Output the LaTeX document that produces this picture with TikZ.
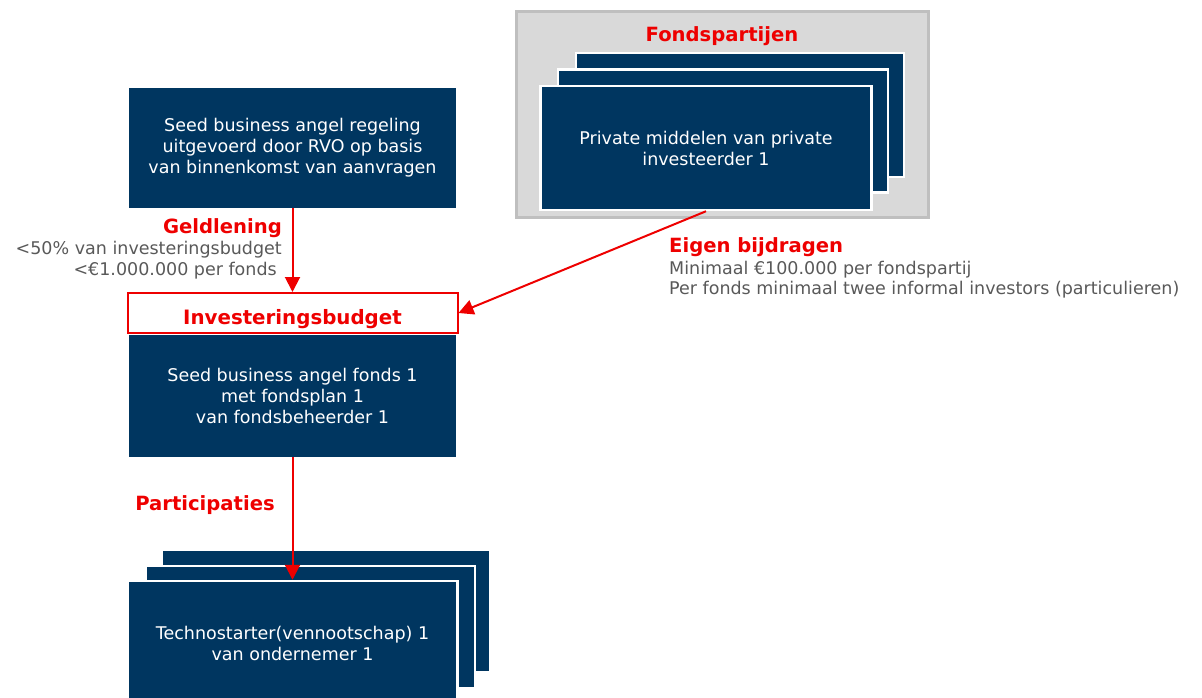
\documentclass[tikz,border=0pt]{standalone}
\usepackage{fontspec}
\setmainfont{DejaVu Sans}
\usetikzlibrary{arrows.meta}
\definecolor{navy}{RGB}{0,54,96}
\definecolor{redc}{RGB}{238,0,0}
\definecolor{graytxt}{RGB}{89,89,89}
\definecolor{panelfill}{RGB}{217,217,217}
\definecolor{panelline}{RGB}{191,191,191}
\tikzset{
  darkbox/.style={fill=navy, draw=none, minimum width=327pt, minimum height=121pt, inner sep=0pt,
    text=white, align=center, font=\fontsize{17.5}{21}\selectfont},
  stackbox/.style={fill=navy, draw=white, line width=2.5pt, minimum width=330pt, minimum height=123pt, inner sep=0pt,
    text=white, align=center, font=\fontsize{17.5}{21}\selectfont},
  redlabel/.style={text=redc, font=\fontsize{19.6}{22}\selectfont\bfseries, inner sep=0pt},
  graylabel/.style={text=graytxt, font=\fontsize{17.5}{21}\selectfont, inner sep=0pt},
  redarrow/.style={draw=redc, line width=2pt, -{Triangle[width=15pt,length=15pt]}},
}
\begin{document}
\begin{tikzpicture}[x=1pt,y=-1pt]
\useasboundingbox (0,0) rectangle (1202,698);
% panel Fondspartijen
\node[fill=panelfill, draw=panelline, line width=3pt, minimum width=412pt, minimum height=206pt, inner sep=0pt] (panel) at (722.5,114.5) {};
\node[redlabel, anchor=base] (fp) at (722,42) {Fondspartijen};
\node[stackbox, minimum width=328pt, minimum height=124pt] (fb3) at (740,115) {};
\node[stackbox, minimum width=330pt, minimum height=123pt] (fb2) at (723,131) {};
\node[stackbox, minimum width=331pt, minimum height=124pt] (fb1) at (706,148) {Private middelen van private\\investeerder 1};
% RVO box
\node[darkbox, minimum height=120pt] (rvo) at (292.5,148) {Seed business angel regeling\\uitgevoerd door RVO op basis\\van binnenkomst van aanvragen};
% Investeringsbudget
\node[draw=redc, fill=white, line width=2pt, minimum width=330pt, minimum height=40pt, inner sep=0pt,
  text height=24pt, text depth=2pt, text=redc, font=\fontsize{19.8}{22}\selectfont\bfseries] (inv) at (292.5,313) {Investeringsbudget};
% fonds box
\node[darkbox, minimum height=122pt] (fonds) at (292.5,396) {Seed business angel fonds 1\\met fondsplan 1\\van fondsbeheerder 1};
% bottom stack
\node[stackbox, minimum width=328pt, minimum height=122pt] (ts3) at (326,611) {};
\node[stackbox, minimum width=329pt, minimum height=122pt] (ts2) at (310.5,627) {};
\node[stackbox, minimum width=330pt, minimum height=124pt] (ts1) at (292.5,643) {Technostarter(vennootschap) 1\\van ondernemer 1};
% labels
\node[redlabel, anchor=base east] (gl) at (282,233) {Geldlening};
\node[graylabel, anchor=base east] (gl1) at (282,254) {<50\% van investeringsbudget};
\node[graylabel, anchor=base east] (gl2) at (277,275) {<€1.000.000 per fonds};
\node[redlabel, anchor=base west] (eb) at (669,252) {Eigen bijdragen};
\node[graylabel, anchor=base west] (eb1) at (669,274) {Minimaal €100.000 per fondspartij};
\node[graylabel, anchor=base west] (eb2) at (669,294) {Per fonds minimaal twee informal investors (particulieren)};
\node[redlabel] (part) at (205,505) {Participaties};
% arrows
\draw[redarrow] (rvo.south) -- (inv.north);
\draw[redarrow] (fb1.south) -- (inv.east);
\draw[redarrow] (fonds.south) -- (ts1.north);
\end{tikzpicture}
\end{document}
